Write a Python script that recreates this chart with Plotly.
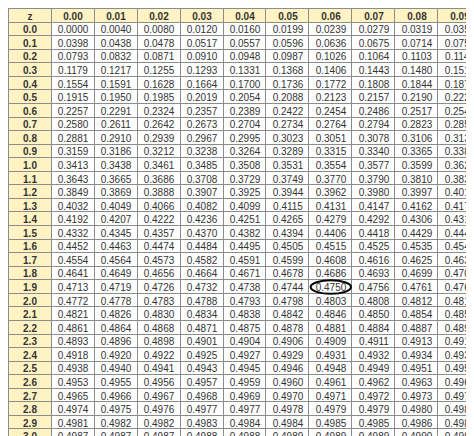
import plotly.graph_objects as go

z_labels = ["0.0", "0.1", "0.2", "0.3", "0.4", "0.5", "0.6", "0.7", "0.8", "0.9",
            "1.0", "1.1", "1.2", "1.3", "1.4", "1.5", "1.6", "1.7", "1.8", "1.9",
            "2.0", "2.1", "2.2", "2.3", "2.4", "2.5", "2.6", "2.7", "2.8", "2.9", "3.0"]
col_labels = ["0.00", "0.01", "0.02", "0.03", "0.04", "0.05", "0.06", "0.07", "0.08", "0.09"]

rows = [
    [.0000, .0040, .0080, .0120, .0160, .0199, .0239, .0279, .0319, .0359],
    [.0398, .0438, .0478, .0517, .0557, .0596, .0636, .0675, .0714, .0753],
    [.0793, .0832, .0871, .0910, .0948, .0987, .1026, .1064, .1103, .1141],
    [.1179, .1217, .1255, .1293, .1331, .1368, .1406, .1443, .1480, .1517],
    [.1554, .1591, .1628, .1664, .1700, .1736, .1772, .1808, .1844, .1879],
    [.1915, .1950, .1985, .2019, .2054, .2088, .2123, .2157, .2190, .2224],
    [.2257, .2291, .2324, .2357, .2389, .2422, .2454, .2486, .2517, .2549],
    [.2580, .2611, .2642, .2673, .2704, .2734, .2764, .2794, .2823, .2852],
    [.2881, .2910, .2939, .2967, .2995, .3023, .3051, .3078, .3106, .3133],
    [.3159, .3186, .3212, .3238, .3264, .3289, .3315, .3340, .3365, .3389],
    [.3413, .3438, .3461, .3485, .3508, .3531, .3554, .3577, .3599, .3621],
    [.3643, .3665, .3686, .3708, .3729, .3749, .3770, .3790, .3810, .3830],
    [.3849, .3869, .3888, .3907, .3925, .3944, .3962, .3980, .3997, .4015],
    [.4032, .4049, .4066, .4082, .4099, .4115, .4131, .4147, .4162, .4177],
    [.4192, .4207, .4222, .4236, .4251, .4265, .4279, .4292, .4306, .4319],
    [.4332, .4345, .4357, .4370, .4382, .4394, .4406, .4418, .4429, .4441],
    [.4452, .4463, .4474, .4484, .4495, .4505, .4515, .4525, .4535, .4545],
    [.4554, .4564, .4573, .4582, .4591, .4599, .4608, .4616, .4625, .4633],
    [.4641, .4649, .4656, .4664, .4671, .4678, .4686, .4693, .4699, .4706],
    [.4713, .4719, .4726, .4732, .4738, .4744, .4750, .4756, .4761, .4767],
    [.4772, .4778, .4783, .4788, .4793, .4798, .4803, .4808, .4812, .4817],
    [.4821, .4826, .4830, .4834, .4838, .4842, .4846, .4850, .4854, .4857],
    [.4861, .4864, .4868, .4871, .4875, .4878, .4881, .4884, .4887, .4890],
    [.4893, .4896, .4898, .4901, .4904, .4906, .4909, .4911, .4913, .4916],
    [.4918, .4920, .4922, .4925, .4927, .4929, .4931, .4932, .4934, .4936],
    [.4938, .4940, .4941, .4943, .4945, .4946, .4948, .4949, .4951, .4952],
    [.4953, .4955, .4956, .4957, .4959, .4960, .4961, .4962, .4963, .4964],
    [.4965, .4966, .4967, .4968, .4969, .4970, .4971, .4972, .4973, .4974],
    [.4974, .4975, .4976, .4977, .4977, .4978, .4979, .4979, .4980, .4981],
    [.4981, .4982, .4982, .4983, .4984, .4984, .4985, .4985, .4986, .4986],
    [.4987, .4987, .4987, .4988, .4988, .4989, .4989, .4989, .4990, .4990],
]

# highlighted cell: z = 1.9, column 0.06
hl_z, hl_c = "1.9", "0.06"

xs = ["z"] + col_labels
ys = ["hdr"] + z_labels

# grid as heatmap: 1 = yellow label cell, 0 = white value cell
fill = [[1] * len(xs)]
text = [["<b>z</b>"] + [f"<b>{c}</b>" for c in col_labels]]
for z, r in zip(z_labels, rows):
    fill.append([1] + [0] * len(r))
    text.append([f"<b>{z}</b>"] + [f"{v:.4f}" for v in r])

fig = go.Figure(go.Heatmap(
    x=xs, y=ys, z=fill, text=text, texttemplate="%{text}",
    textfont=dict(family="Liberation Sans", size=10, color="#333"),
    colorscale=[[0, "white"], [1, "#fff3c4"]], zmin=0, zmax=1,
    showscale=False, xgap=1, ygap=1, hoverinfo="skip",
))

xi, yi = xs.index(hl_c), ys.index(hl_z)
fig.add_shape(type="circle", x0=xi - 0.47, x1=xi + 0.47, y0=yi - 0.5, y1=yi + 0.5,
              line=dict(color="black", width=2))

fig.update_xaxes(visible=False, side="top")
fig.update_yaxes(visible=False, autorange="reversed")
fig.update_layout(width=474, height=436, margin=dict(l=1, r=1, t=1, b=1),
                  paper_bgcolor="#8c8c8c", plot_bgcolor="#8c8c8c")
fig.write_html("out.html")
